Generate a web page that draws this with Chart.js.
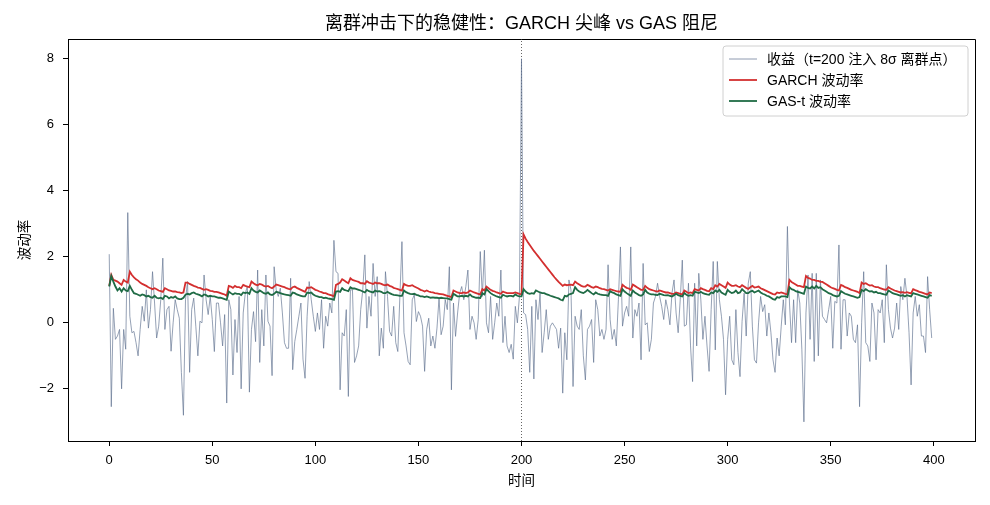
<!DOCTYPE html>
<html>
<head>
<meta charset="utf-8">
<script src="https://cdn.jsdelivr.net/npm/chart.js@4.4.1/dist/chart.umd.min.js"></script>
<style>
html,body{margin:0;padding:0;background:#fff;}
#c{display:block;}
</style>
</head>
<body>
<canvas id="c" width="990" height="505"></canvas>
<script>
// ---- data ----
const titleText = "离群冲击下的稳健性：GARCH 尖峰 vs GAS 阻尼";
const xTitle = "时间";
const yTitle = "波动率";
const seriesNames = ["收益（t=200 注入 8σ 离群点）", "GARCH 波动率", "GAS-t 波动率"];
const shockTime = 200;
const xTicks = [0, 50, 100, 150, 200, 250, 300, 350, 400];
const yTicks = [-2, 0, 2, 4, 6, 8];

const returns = [
2.08,-2.54,0.44,-0.5,-0.4,-0.2,-2.0,-0.2,-0.8,3.34,0.2,-0.3,-0.26,-0.6,-1.0,-0.2,0.5,0.05,1.0,-0.16,0.4,1.55,0.6,-0.46,-0.1,0.7,1.96,-0.2,0.4,0.5,-0.86,0,0.7,0.4,0.14,-1.5,-2.8,0.7,1.25,-1.5,
0.4,0.75,-0.1,-1.0,0.05,0,1.45,0.7,0.25,0.8,0.1,-0.87,0.6,0.6,0,-0.7,0.25,-2.43,0.7,0.4,-1.58,0.1,-0.9,0.8,-2.0,0.3,0.9,1.1,-2.1,-0.2,0.34,-0.57,1.6,-1.2,0.4,-0.7,1.45,0.05,-0.1,-1.6,1.7,1.0,
0.8,1.05,0.3,-0.6,-0.77,-0.77,1.35,-1.42,-0.57,-0.2,0.2,0.6,-1.1,-1.68,0.2,1.25,0.7,0.2,-0.26,0.3,-0.2,0.7,-0.77,0.2,-0.1,0.6,0.3,2.5,1.55,1.5,-2.03,-0.3,-0.4,0.4,-2.23,1.0,1.0,-1.2,-1.0,-0.7,0.4,
1.0,2.06,-0.16,0.8,0.2,1.8,0.8,1.4,-1.0,-0.16,-0.77,1.55,0.8,-0.26,-0.4,0.5,-0.6,-0.87,0.8,2.46,-0.3,-0.7,-1.17,-1.27,0.7,0.85,0.04,0.34,0.2,-0.1,-1.47,-0.2,0.14,-0.7,-0.4,-0.77,-0.16,0.75,-0.36,-0.1,0.7,
0.4,1.7,-2.03,0.6,-0.41,0.3,0.9,1.1,0.7,1.1,1.6,-0.2,0.2,0,-0.5,0.1,2.16,0.8,2.2,0,-0.3,0.8,-0.5,0,0.6,0.2,1.6,-0.6,0.2,-0.7,-0.9,-0.65,-1.1,0.5,0,0.8,8.0,0.3,0.25,-0.2,-1.5,
0.5,-1.7,0.7,0.1,0.9,-0.9,-0.3,0.4,-0.5,-0.1,0,-0.1,-0.2,-0.77,-0.16,-2.13,-0.3,-1.12,1.3,1.0,-1.93,0.2,-0.1,-0.2,0.4,-1.0,-1.73,-0.2,-0.1,0.1,-1.2,0.7,0.4,-0.4,-0.2,-0.5,-0.2,1.76,0.1,-0.5,-0.2,
-0.7,0.7,2.3,-0.1,0.3,0.5,0.2,2.3,-0.46,0.4,0.2,0.6,-1.12,1.8,-0.06,0,-0.87,-0.5,0.6,0.8,1.2,0.8,0.5,0.1,0.7,0.4,-0.06,0.9,1.3,0.3,-0.3,0.7,1.9,-0.1,-0.06,1.2,-0.7,-1.78,1.2,
-0.7,1.5,0.7,-0.5,0.2,-0.7,-1.47,0.4,1.86,-0.82,1.86,0.7,0.2,-0.5,-2.18,-0.5,0.2,-1.12,-1.27,0.4,-0.9,-1.63,0.04,0.9,-0.4,1.2,1.55,-0.1,-1.12,-1.22,0,0.8,0.34,0.55,-0.4,0.3,-0.3,-1.12,-1.5,-0.46,-1.0,-0.1,0.7,
-0.06,2.92,0.6,-0.6,0.7,-0.6,1.0,0.6,-0.8,-3.0,0.3,1.45,-0.5,1.5,-1.17,1.5,-1.0,1.3,0.2,0.1,0,0.4,0.8,-0.77,0.65,0.6,2.36,-0.8,0.7,0.7,-0.4,0.3,0.2,-0.5,-0.6,-0.06,-2.54,
0,1.55,-0.6,-0.7,-1.17,0.6,0.3,-1.12,0.4,0.3,0.7,-0.6,1.76,0.4,-0.16,-0.46,-0.16,0.6,-0.2,1.1,0.7,1.35,0.8,-0.3,-1.88,0.3,0.8,0.2,0.55,-0.4,-0.4,-0.9,1.4,0.4,-0.46
];

const garchVol = [
1.12,1.45,1.3,1.28,1.25,1.2,1.15,1.3,1.25,1.22,1.55,1.45,1.38,1.32,1.28,1.22,1.18,1.15,1.12,1.08,1.05,1.02,1.05,1.02,0.98,0.96,0.94,1.05,1.02,0.98,0.97,0.95,0.95,0.93,0.92,0.9,0.92,1.22,1.22,1.18,
1.15,1.12,1.1,1.07,1.06,1.03,1.0,1.02,1.0,0.97,0.96,0.94,0.94,0.92,0.9,0.88,0.86,0.82,1.12,1.1,1.06,1.12,1.08,1.08,1.05,1.15,1.12,1.1,1.08,1.25,1.2,1.16,1.14,1.18,1.16,1.12,1.1,1.12,1.08,1.05,1.1,1.16,
1.14,1.12,1.1,1.08,1.05,1.03,1.02,1.08,1.1,1.06,1.03,1.0,0.97,0.94,1.07,1.06,1.08,1.04,1.0,0.98,0.95,0.93,0.9,0.9,0.87,0.85,0.83,0.8,1.15,1.18,1.22,1.32,1.28,1.24,1.2,1.35,1.3,1.28,1.26,1.24,1.2,
1.2,1.18,1.26,1.22,1.2,1.18,1.22,1.2,1.2,1.18,1.15,1.14,1.16,1.12,1.1,1.06,1.04,1.02,1.0,0.98,1.18,1.14,1.12,1.12,1.14,1.1,1.07,1.04,1.0,0.98,0.95,0.98,0.95,0.93,0.92,0.9,0.89,0.88,0.87,0.86,0.84,
0.82,0.8,0.78,0.98,0.95,0.92,0.9,0.9,0.92,0.9,0.92,0.98,0.95,0.92,0.9,0.88,0.86,1.02,0.98,1.1,1.05,1.0,0.97,0.95,0.92,0.9,0.88,0.95,0.92,0.9,0.9,0.9,0.9,0.92,0.9,0.88,0.87,2.68,2.55,2.45,2.36,
2.27,2.18,2.1,2.02,1.94,1.86,1.78,1.7,1.62,1.54,1.46,1.38,1.31,1.24,1.18,1.12,1.16,1.14,1.15,1.16,1.14,1.25,1.2,1.16,1.12,1.1,1.1,1.15,1.12,1.08,1.06,1.1,1.08,1.05,1.03,1.02,1.0,0.98,1.02,1.0,0.98,
0.96,0.95,0.94,1.15,1.1,1.06,1.04,1.0,1.16,1.12,1.08,1.04,1.0,1.0,1.12,1.06,1.02,1.0,0.98,0.96,0.95,0.98,0.96,0.94,0.92,0.92,0.9,0.88,0.88,0.92,0.9,0.88,0.86,0.98,0.94,0.9,0.92,0.9,1.02,
1.0,0.98,1.05,1.02,1.0,0.97,0.96,1.05,1.02,1.14,1.1,1.18,1.14,1.1,1.06,1.22,1.16,1.12,1.12,1.14,1.1,1.08,1.14,1.1,1.06,1.03,1.08,1.12,1.07,1.08,1.1,1.05,1.02,0.99,0.96,0.93,0.9,0.87,0.86,0.92,0.9,0.92,0.9,
0.88,0.87,1.3,1.24,1.2,1.16,1.12,1.12,1.1,1.08,1.42,1.36,1.34,1.3,1.3,1.27,1.27,1.24,1.24,1.2,1.16,1.12,1.08,1.05,1.03,1.0,0.98,1.15,1.12,1.08,1.06,1.03,1.0,0.98,0.96,0.94,0.9,
1.22,1.18,1.2,1.16,1.13,1.14,1.1,1.08,1.08,1.05,1.03,1.01,1.0,1.08,1.04,1.01,0.98,0.96,0.94,0.92,0.93,0.91,0.93,0.91,0.89,1.02,0.99,0.97,0.94,0.92,0.9,0.88,0.86,0.92,0.9
];

const gasVol = [
1.1,1.42,1.25,1.1,0.98,1.05,0.95,1.05,0.98,0.96,1.12,1.0,0.9,0.88,0.85,0.82,0.86,0.84,0.8,0.82,0.78,0.76,0.82,0.76,0.74,0.76,0.72,0.82,0.8,0.74,0.78,0.76,0.8,0.74,0.72,0.72,0.76,0.85,0.88,0.86,
0.9,0.92,0.88,0.86,0.84,0.8,0.86,0.84,0.8,0.82,0.8,0.8,0.78,0.76,0.76,0.74,0.72,0.7,0.95,0.9,0.86,0.9,0.88,0.88,0.84,0.92,0.9,0.92,0.88,1.05,0.98,0.94,0.92,0.98,0.94,0.9,0.88,0.92,0.86,0.84,0.88,0.94,
0.92,0.9,0.88,0.86,0.85,0.84,0.82,0.92,0.9,0.86,0.84,0.82,0.8,0.8,0.92,0.9,0.92,0.86,0.82,0.8,0.78,0.78,0.75,0.76,0.74,0.73,0.72,0.7,0.95,0.96,0.94,1.05,1.0,0.98,0.96,1.08,1.04,1.04,1.02,1.0,0.98,
0.95,0.92,1.0,0.96,0.94,0.92,0.98,0.95,0.96,0.94,0.9,0.9,0.94,0.9,0.87,0.85,0.84,0.83,0.82,0.82,0.98,0.93,0.9,0.88,0.87,0.88,0.85,0.83,0.8,0.8,0.78,0.8,0.78,0.76,0.77,0.76,0.76,0.75,0.76,0.75,0.74,
0.74,0.72,0.7,0.88,0.84,0.8,0.8,0.82,0.8,0.82,0.8,0.86,0.8,0.78,0.76,0.76,0.75,0.9,0.86,1.02,0.96,0.9,0.86,0.83,0.8,0.78,0.76,0.85,0.82,0.8,0.82,0.82,0.8,0.86,0.82,0.8,0.8,1.02,0.95,0.9,0.88,
0.9,0.88,0.98,0.95,0.92,0.9,0.9,0.87,0.85,0.82,0.8,0.78,0.76,0.74,0.7,0.68,0.82,0.8,0.86,0.88,0.9,1.08,1.0,0.95,0.92,0.9,0.94,1.0,0.95,0.9,0.86,0.92,0.88,0.86,0.85,0.84,0.84,0.82,0.96,0.92,0.9,
0.86,0.84,0.82,1.02,0.95,0.9,0.86,0.82,0.98,0.92,0.88,0.84,0.82,0.86,1.0,0.92,0.88,0.86,0.86,0.85,0.84,0.88,0.86,0.84,0.83,0.84,0.82,0.8,0.84,0.88,0.84,0.82,0.8,0.9,0.85,0.82,0.84,0.82,0.94,
0.92,0.9,0.94,0.9,0.88,0.86,0.85,0.92,0.9,0.98,0.94,1.0,0.92,0.88,0.85,1.0,0.94,0.9,0.92,0.98,0.9,0.92,1.02,0.96,0.9,0.9,0.95,0.97,0.92,0.95,0.98,0.92,0.88,0.86,0.82,0.8,0.76,0.72,0.7,0.78,0.76,0.8,0.8,
0.8,0.78,1.08,1.02,1.0,0.96,0.94,0.92,0.9,0.88,1.1,1.06,1.04,1.1,1.04,1.12,1.06,1.08,1.02,0.98,0.94,0.9,0.88,0.84,0.82,0.8,0.82,0.96,0.92,0.88,0.86,0.84,0.82,0.8,0.78,0.76,0.78,
1.0,0.96,1.02,0.98,0.95,0.96,0.92,0.94,0.9,0.9,0.88,0.86,0.85,0.98,0.94,0.9,0.88,0.86,0.84,0.82,0.84,0.8,0.84,0.82,0.8,0.9,0.88,0.86,0.84,0.82,0.8,0.78,0.76,0.84,0.82
];

// ---- styling ----
const FONT = "'Liberation Sans', 'Noto Sans CJK SC', sans-serif";
const colReturns = "rgba(98,116,145,0.9)";
const colGarch = "#d32f2f";
const colGas = "#1f6b45";
const X_MIN = -20, X_MAX = 420, Y_MIN = -3.58, Y_MAX = 8.6;

const toPts = arr => arr.map((v, i) => ({ x: i, y: v }));

const overlay = {
  id: 'overlay',
  afterDraw(chart) {
    const ctx = chart.ctx, a = chart.chartArea;
    ctx.save();
    // frame top/right
    ctx.strokeStyle = '#000'; ctx.lineWidth = 1;
    ctx.beginPath();
    ctx.moveTo(a.left, a.top + 0.5); ctx.lineTo(a.right + 0.5, a.top + 0.5); ctx.lineTo(a.right + 0.5, a.bottom);
    ctx.stroke();
    // title
    ctx.fillStyle = '#000';
    ctx.textAlign = 'center'; ctx.textBaseline = 'middle';
    ctx.font = "18px " + FONT;
    ctx.fillText(titleText, (a.left + a.right) / 2, 24);
    // axis titles
    ctx.font = "13.5px " + FONT;
    ctx.fillText(xTitle, (a.left + a.right) / 2, 481);
    ctx.save();
    ctx.translate(25, (a.top + a.bottom) / 2);
    ctx.rotate(-Math.PI / 2);
    ctx.fillText(yTitle, 0, 0);
    ctx.restore();
    // legend
    const bx = 723, by = 46, bw = 245, bh = 70, r = 3;
    ctx.beginPath();
    ctx.moveTo(bx + r, by); ctx.lineTo(bx + bw - r, by); ctx.quadraticCurveTo(bx + bw, by, bx + bw, by + r);
    ctx.lineTo(bx + bw, by + bh - r); ctx.quadraticCurveTo(bx + bw, by + bh, bx + bw - r, by + bh);
    ctx.lineTo(bx + r, by + bh); ctx.quadraticCurveTo(bx, by + bh, bx, by + bh - r);
    ctx.lineTo(bx, by + r); ctx.quadraticCurveTo(bx, by, bx + r, by);
    ctx.closePath();
    ctx.fillStyle = 'rgba(255,255,255,0.85)'; ctx.fill();
    ctx.strokeStyle = '#d0d0d0'; ctx.lineWidth = 1; ctx.stroke();
    const rows = [59, 80, 101];
    const cols = [colReturns, colGarch, colGas];
    const widths = [0.8, 1.8, 1.8];
    ctx.textAlign = 'left';
    ctx.font = "14px " + FONT;
    for (let i = 0; i < 3; i++) {
      ctx.strokeStyle = cols[i]; ctx.lineWidth = widths[i];
      ctx.beginPath(); ctx.moveTo(729, rows[i]); ctx.lineTo(757, rows[i]); ctx.stroke();
      ctx.fillStyle = '#000';
      ctx.fillText(seriesNames[i], 767, rows[i] + 1);
    }
    ctx.restore();
  }
};

new Chart(document.getElementById('c'), {
  type: 'line',
  data: {
    datasets: [
      { label: seriesNames[0], data: toPts(returns), borderColor: colReturns, borderWidth: 0.75, pointRadius: 0, tension: 0, order: 3 },
      { label: seriesNames[1], data: toPts(garchVol), borderColor: colGarch, borderWidth: 1.8, pointRadius: 0, tension: 0, order: 2 },
      { label: seriesNames[2], data: toPts(gasVol), borderColor: colGas, borderWidth: 1.8, pointRadius: 0, tension: 0, order: 1 },
      { label: 'shock', data: [{ x: shockTime, y: Y_MIN }, { x: shockTime, y: Y_MAX }], borderColor: '#555', borderWidth: 0.9, borderDash: [1, 2], pointRadius: 0, order: 4 }
    ]
  },
  options: {
    responsive: false,
    devicePixelRatio: 1,
    animation: false,
    layout: { padding: { top: 39, right: 15, bottom: 0, left: 0 } },
    plugins: { legend: { display: false }, tooltip: { enabled: false }, title: { display: false } },
    scales: {
      x: {
        type: 'linear', min: X_MIN, max: X_MAX,
        afterFit: s => { s.height = 64; },
        afterBuildTicks: s => { s.ticks = xTicks.map(v => ({ value: v })); },
        ticks: { color: '#000', font: { family: FONT, size: 13 }, padding: 7, maxRotation: 0, autoSkip: false, callback: v => String(v) },
        grid: { drawOnChartArea: false, drawTicks: true, tickLength: 5, tickColor: '#000', tickWidth: 1 },
        border: { display: true, color: '#000', width: 1 }
      },
      y: {
        type: 'linear', min: Y_MIN, max: Y_MAX,
        afterFit: s => { s.width = 68; },
        afterBuildTicks: s => { s.ticks = yTicks.map(v => ({ value: v })); },
        ticks: { color: '#000', font: { family: FONT, size: 13 }, padding: 9, callback: v => String(v).replace('-', '\u2212') },
        grid: { drawOnChartArea: false, drawTicks: true, tickLength: 5, tickColor: '#000', tickWidth: 1 },
        border: { display: true, color: '#000', width: 1 }
      }
    }
  },
  plugins: [overlay]
});
</script>
</body>
</html>
